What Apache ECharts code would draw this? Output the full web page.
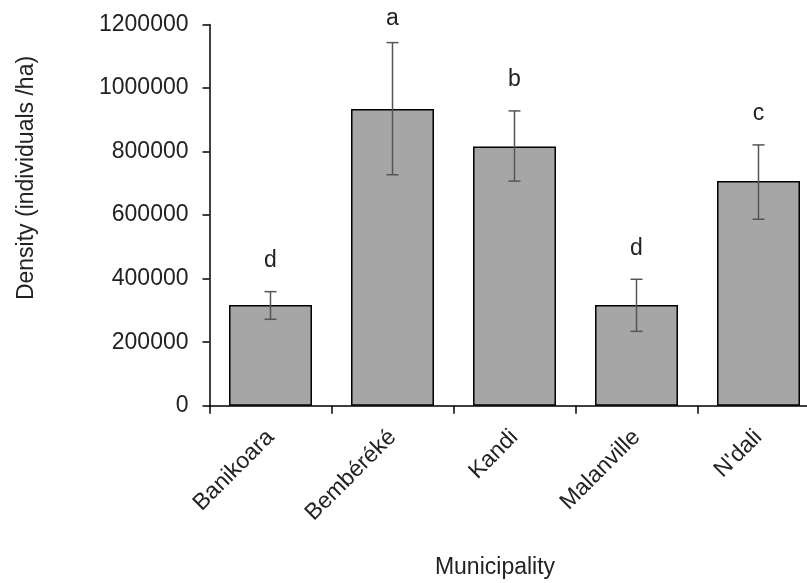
<!DOCTYPE html>
<html>
<head>
<meta charset="utf-8">
<script src="https://cdn.jsdelivr.net/npm/echarts@6/dist/echarts.min.js"></script>
<style>html,body{margin:0;padding:0;background:#fff}#c{width:807px;height:583px}</style>
</head>
<body>
<div id="c"></div>
<script>
const categories = ['Banikoara', 'Bembéréké', 'Kandi', 'Malanville', "N'dali"];
const density = [317000, 934000, 816000, 317000, 707000];
const errLow = [272000, 727000, 707000, 234000, 587000];
const errHigh = [359000, 1143000, 928000, 398000, 821000];
const letters = ['d', 'a', 'b', 'd', 'c'];
const yTicks = [0, 200000, 400000, 600000, 800000, 1000000, 1200000];

const FONT = '"Liberation Sans", Arial, sans-serif';
const FS = 23;
const chart = echarts.init(document.getElementById('c'), null, {renderer: 'canvas'});

const errData = categories.map((c, i) => [i, errLow[i], errHigh[i], letters[i]]);

chart.setOption({
  animation: false,
  backgroundColor: '#fff',
  grid: {left: 209.5, top: 24.5, bottom: 177.3, width: 610, containLabel: false, outerBoundsMode: 'none'},
  xAxis: {
    type: 'category',
    data: categories,
    boundaryGap: true,
    axisLine: {lineStyle: {color: '#000', width: 1.5}},
    axisTick: {show: true, length: 8, inside: false, alignWithLabel: false, lineStyle: {color: '#000', width: 1.5}},
    axisLabel: {rotate: 45, margin: 28, color: '#222', fontSize: FS, fontFamily: FONT, interval: 0}
  },
  yAxis: {
    type: 'value',
    min: yTicks[0],
    max: yTicks[yTicks.length - 1],
    interval: yTicks[1] - yTicks[0],
    axisLine: {show: true, lineStyle: {color: '#000', width: 1.5}},
    axisTick: {show: true, length: 7, lineStyle: {color: '#000', width: 1.5}},
    splitLine: {show: false},
    axisLabel: {margin: 21, color: '#222', fontSize: FS, fontFamily: FONT, formatter: v => String(v)}
  },
  series: [
    {
      type: 'bar',
      data: density,
      barCategoryGap: '32%',
      itemStyle: {color: '#a6a6a6', borderColor: '#000', borderWidth: 1.5},
      z: 2
    },
    {
      type: 'custom',
      data: errData,
      z: 5,
      renderItem: function (params, api) {
        const x = api.value(0);
        const lo = api.coord([x, api.value(1)]);
        const hi = api.coord([x, api.value(2)]);
        const cap = 6;
        const st = {stroke: '#555', lineWidth: 1.5};
        const ty = Math.max(hi[1] - 31, params.coordSys.y - 6);
        return {
          type: 'group',
          children: [
            {type: 'line', shape: {x1: lo[0], y1: lo[1], x2: hi[0], y2: hi[1]}, style: st},
            {type: 'line', shape: {x1: lo[0] - cap, y1: lo[1], x2: lo[0] + cap, y2: lo[1]}, style: st},
            {type: 'line', shape: {x1: hi[0] - cap, y1: hi[1], x2: hi[0] + cap, y2: hi[1]}, style: st},
            {type: 'text', x: hi[0], y: ty, style: {text: api.value(3), fill: '#222', fontSize: FS, fontFamily: FONT, align: 'center', verticalAlign: 'middle'}}
          ]
        };
      }
    }
  ],
  graphic: [
    {type: 'text', x: 27, y: 178, rotation: Math.PI / 2, style: {text: 'Density (individuals /ha)', fill: '#222', fontSize: FS, fontFamily: FONT, align: 'center', verticalAlign: 'middle'}},
    {type: 'text', x: 495, y: 568, style: {text: 'Municipality', fill: '#222', fontSize: FS, fontFamily: FONT, align: 'center', verticalAlign: 'middle'}}
  ]
});
</script>
</body>
</html>
